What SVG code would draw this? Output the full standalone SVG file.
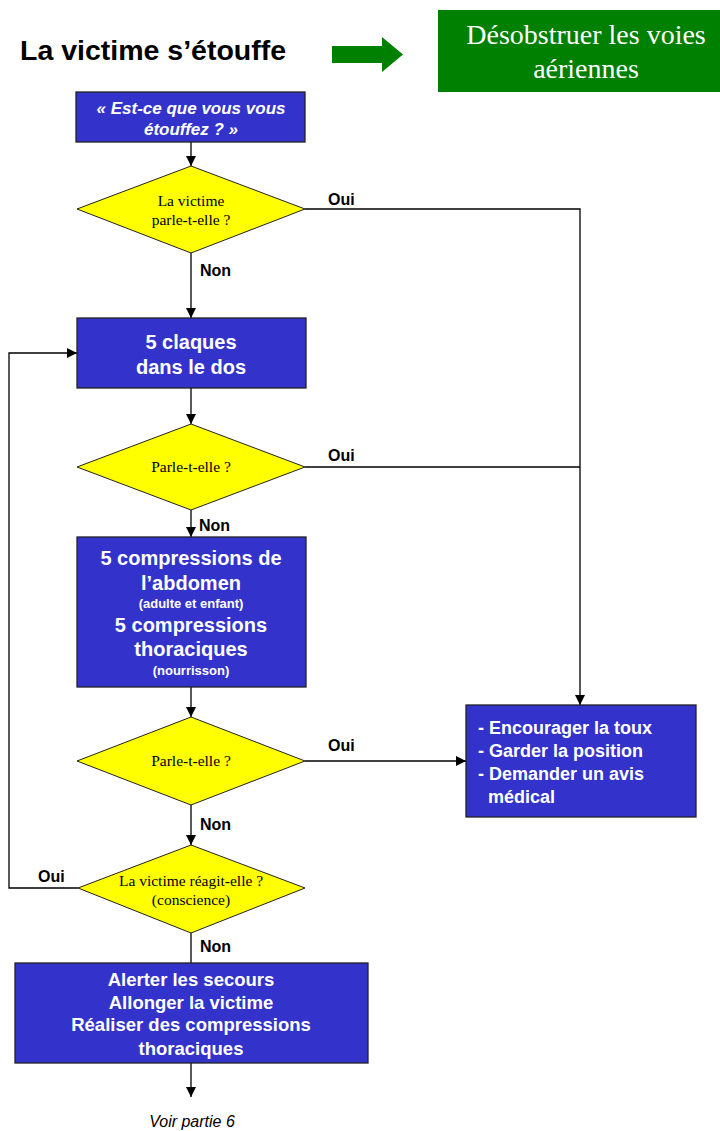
<svg xmlns="http://www.w3.org/2000/svg" width="720" height="1131" viewBox="0 0 720 1131">
<defs>
<marker id="ah" markerWidth="10" markerHeight="10" refX="10" refY="5" orient="auto" markerUnits="userSpaceOnUse">
<path d="M0,0 L10,5 L0,10 Z" fill="#000"/>
</marker>
<style>
.box{fill:#3333CC;stroke:#222;stroke-width:1.3}
.dia{fill:#FFFF00;stroke:#222;stroke-width:1}
.bt{font-family:"Liberation Sans",Arial,sans-serif;font-weight:bold;fill:#fff;text-anchor:middle}
.bl{font-family:"Liberation Sans",Arial,sans-serif;font-weight:bold;fill:#fff;text-anchor:start;font-size:18px}
.dt{font-family:"Liberation Serif","Times New Roman",serif;font-size:15.5px;fill:#000;text-anchor:middle}
.lb{font-family:"Liberation Sans",Arial,sans-serif;font-weight:bold;font-size:16px;fill:#000}
.cn{fill:none;stroke:#000;stroke-width:1.3}
</style>
</defs>
<rect width="720" height="1131" fill="#fff"/>

<g id="title">
<text x="20" y="60" font-family="'Liberation Sans',Arial,sans-serif" font-weight="bold" font-size="28.5" fill="#000">La victime s’étouffe</text>
</g>
<g id="green-arrow">
<polygon points="332,46 382,46 382,37 403,54.5 382,72 382,63 332,63" fill="#008000"/>
</g>
<g id="green-box">
<rect x="438" y="10" width="282" height="82" fill="#008000"/>
<text x="586" y="44" font-family="'Liberation Serif','Times New Roman',serif" font-size="28" fill="#fff" text-anchor="middle">Désobstruer les voies</text>
<text x="586" y="78" font-family="'Liberation Serif','Times New Roman',serif" font-size="28" fill="#fff" text-anchor="middle">aériennes</text>
</g>

<g id="connectors">
<line class="cn" x1="191" y1="142" x2="191" y2="166" marker-end="url(#ah)"/>
<polyline class="cn" points="305,209 580,209 580,705" marker-end="url(#ah)"/>
<line class="cn" x1="191" y1="253" x2="191" y2="318" marker-end="url(#ah)"/>
<line class="cn" x1="191" y1="388" x2="191" y2="424" marker-end="url(#ah)"/>
<line class="cn" x1="305" y1="467" x2="580" y2="467"/>
<line class="cn" x1="191" y1="510" x2="191" y2="537" marker-end="url(#ah)"/>
<line class="cn" x1="191" y1="687" x2="191" y2="717" marker-end="url(#ah)"/>
<line class="cn" x1="305" y1="761" x2="466" y2="761" marker-end="url(#ah)"/>
<line class="cn" x1="191" y1="805" x2="191" y2="845" marker-end="url(#ah)"/>
<polyline class="cn" points="78,888 9,888 9,353 77,353" marker-end="url(#ah)"/>
<line class="cn" x1="191" y1="933" x2="191" y2="963"/>
<line class="cn" x1="191" y1="1063" x2="191" y2="1097" marker-end="url(#ah)"/>
<text class="lb" x="328" y="205">Oui</text>
<text class="lb" x="200" y="276">Non</text>
<text class="lb" x="328" y="461">Oui</text>
<text class="lb" x="199" y="531">Non</text>
<text class="lb" x="328" y="751">Oui</text>
<text class="lb" x="200" y="830">Non</text>
<text class="lb" x="38" y="882">Oui</text>
<text class="lb" x="200" y="952">Non</text>
</g>

<g id="n-question">
<rect class="box" x="76" y="92" width="229" height="50"/>
<text class="bt" x="191" y="114" font-size="17" font-style="italic">« Est-ce que vous vous</text>
<text class="bt" x="191" y="135" font-size="17" font-style="italic">étouffez ? »</text>
</g>

<g id="d-parle1">
<polygon class="dia" points="191,166 305,209 191,253 77,209"/>
<text class="dt" x="191" y="206">La victime</text>
<text class="dt" x="191" y="225">parle-t-elle ?</text>
</g>

<g id="n-claques">
<rect class="box" x="77" y="318" width="229" height="70"/>
<text class="bt" x="191" y="349" font-size="20">5 claques</text>
<text class="bt" x="191" y="374" font-size="20">dans le dos</text>
</g>

<g id="d-parle2">
<polygon class="dia" points="191,424 305,467 191,510 77,467"/>
<text class="dt" x="191" y="472">Parle-t-elle ?</text>
</g>

<g id="n-compressions">
<rect class="box" x="77" y="537" width="229" height="150"/>
<text class="bt" x="191" y="565" font-size="20">5 compressions de</text>
<text class="bt" x="191" y="590" font-size="20">l’abdomen</text>
<text class="bt" x="191" y="608" font-size="13">(adulte et enfant)</text>
<text class="bt" x="191" y="632" font-size="20">5 compressions</text>
<text class="bt" x="191" y="656" font-size="20">thoraciques</text>
<text class="bt" x="191" y="675" font-size="13">(nourrisson)</text>
</g>

<g id="d-parle3">
<polygon class="dia" points="191,717 305,761 191,805 77,761"/>
<text class="dt" x="191" y="766">Parle-t-elle ?</text>
</g>

<g id="n-encourager">
<rect class="box" x="466" y="705" width="230" height="112"/>
<text class="bl" x="478" y="734">- Encourager la toux</text>
<text class="bl" x="478" y="757">- Garder la position</text>
<text class="bl" x="478" y="780">- Demander un avis</text>
<text class="bl" x="488" y="803">médical</text>
</g>

<g id="d-reagit">
<polygon class="dia" points="191,845 305,888 191,933 78,888"/>
<text class="dt" x="191" y="886">La victime réagit-elle ?</text>
<text class="dt" x="191" y="905">(conscience)</text>
</g>

<g id="n-alerter">
<rect class="box" x="15" y="963" width="353" height="100"/>
<text class="bt" x="191" y="986" font-size="18.5">Alerter les secours</text>
<text class="bt" x="191" y="1009" font-size="18.5">Allonger la victime</text>
<text class="bt" x="191" y="1031" font-size="18.5">Réaliser des compressions</text>
<text class="bt" x="191" y="1055" font-size="18.5">thoraciques</text>
</g>

<g id="footer">
<text x="192" y="1127" font-family="'Liberation Sans',Arial,sans-serif" font-style="italic" font-size="16" fill="#000" text-anchor="middle">Voir partie 6</text>
</g>
</svg>
